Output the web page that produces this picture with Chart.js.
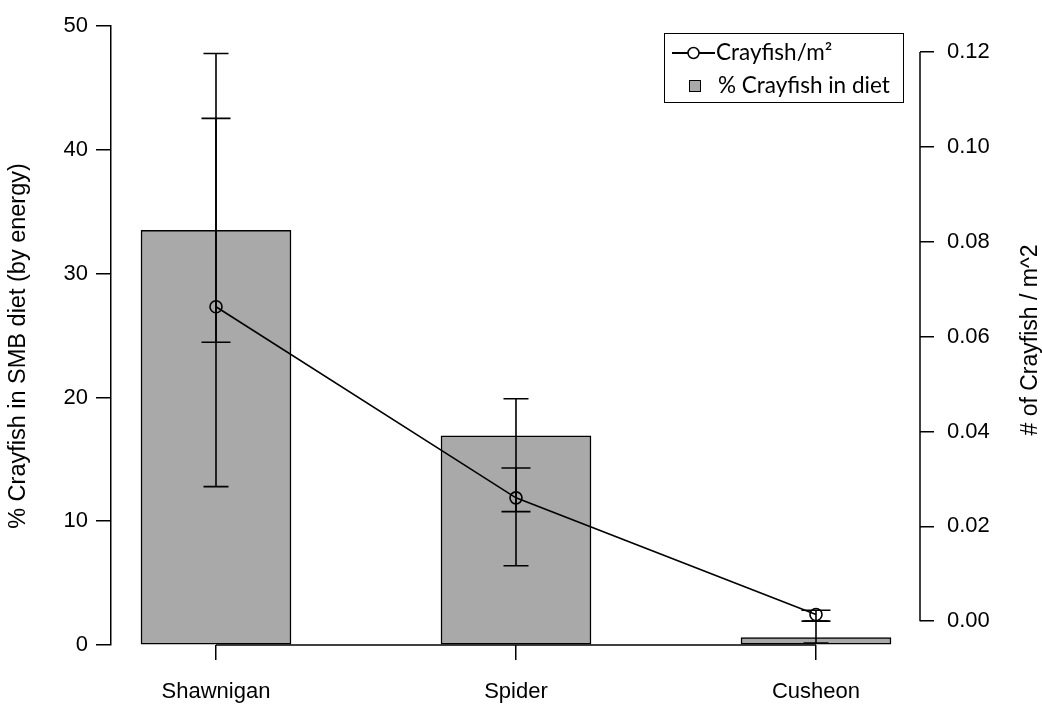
<!DOCTYPE html>
<html>
<head>
<meta charset="utf-8">
<script src="https://cdn.jsdelivr.net/npm/chart.js@4.4.1/dist/chart.umd.min.js"></script>
<style>
  html, body { margin: 0; padding: 0; background: #ffffff; }
  #wrap { width: 1042px; height: 704px; }
</style>
</head>
<body>
<div id="wrap"><canvas id="c" width="1042" height="704"></canvas></div>
<script>
// Sites and measurements
const sites = ['Shawnigan', 'Spider', 'Cusheon'];

// % crayfish in smallmouth bass diet (by energy), with error-bar limits
const dietPct  = [33.5, 16.9, 0.6];
const dietLow  = [12.8, 6.4, 0.16];
const dietHigh = [47.8, 19.9, 1.93];

// Crayfish density (# / m^2), with error-bar limits
const density     = [0.0663, 0.026, 0.0014];
const densityLow  = [0.0588, 0.0231, 0.0];
const densityHigh = [0.106, 0.0323, 0.0023];

// Axis tick values
const leftTicks  = [0, 10, 20, 30, 40, 50];
const rightTicks = [0, 0.02, 0.04, 0.06, 0.08, 0.10, 0.12];

const FONT = "'Liberation Sans', Arial, Helvetica, sans-serif";
const BAR_FILL = '#a9a9a9';

const idx = sites.map((s, i) => i + 1);
const barPoints  = idx.map((x, i) => ({ x, y: dietPct[i] }));
const linePoints = idx.map((x, i) => ({ x, y: density[i] }));

// Error bars drawn through each dataset's own y scale
const errorBars = {
  id: 'errorBars',
  afterDatasetsDraw(chart) {
    const ctx = chart.ctx;
    const xs = chart.scales.x;
    const sets = [
      { scale: chart.scales.y,  lo: dietLow,    hi: dietHigh,    half: 12.5 },
      { scale: chart.scales.y2, lo: densityLow, hi: densityHigh, half: 14.5 }
    ];
    ctx.save();
    ctx.strokeStyle = '#000';
    ctx.lineWidth = 1.6;
    sets.forEach(s => {
      idx.forEach((x, i) => {
        const px = xs.getPixelForValue(x);
        const y1 = s.scale.getPixelForValue(s.lo[i]);
        const y2 = s.scale.getPixelForValue(s.hi[i]);
        ctx.beginPath();
        ctx.moveTo(px, y1); ctx.lineTo(px, y2);
        ctx.moveTo(px - s.half, y1); ctx.lineTo(px + s.half, y1);
        ctx.moveTo(px - s.half, y2); ctx.lineTo(px + s.half, y2);
        ctx.stroke();
      });
    });
    ctx.restore();
  }
};

// Axis lines that span only the labelled range, plus both axis titles
const axisLines = {
  id: 'axisLines',
  afterDraw(chart) {
    const ctx = chart.ctx;
    const xs = chart.scales.x, yr = chart.scales.y2, yl = chart.scales.y;
    ctx.save();
    ctx.strokeStyle = '#000';
    ctx.lineWidth = 1.5;
    // bottom axis from first to last category
    const yb = yl.getPixelForValue(0);
    ctx.beginPath();
    ctx.moveTo(xs.getPixelForValue(1), yb);
    ctx.lineTo(xs.getPixelForValue(sites.length), yb);
    ctx.stroke();
    // right axis from 0.00 to 0.12
    const xr = yr.left;
    ctx.beginPath();
    ctx.moveTo(xr, yr.getPixelForValue(rightTicks[0]));
    ctx.lineTo(xr, yr.getPixelForValue(rightTicks[rightTicks.length - 1]));
    ctx.stroke();
    ctx.restore();

    // axis titles, both reading upward
    const title = (text, x, y, size) => {
      ctx.save();
      ctx.fillStyle = '#000';
      ctx.font = size + 'px ' + FONT;
      ctx.textAlign = 'center';
      ctx.textBaseline = 'middle';
      ctx.translate(x, y);
      ctx.rotate(-Math.PI / 2);
      ctx.fillText(text, 0, 0);
      ctx.restore();
    };
    title('% Crayfish in SMB diet (by energy)', 19, 346, 23.5);
    title('# of Crayfish / m^2', 1031, 340, 23);
  }
};

// Boxed legend in the upper right of the plot
const boxLegend = {
  id: 'boxLegend',
  afterDraw(chart) {
    const ctx = chart.ctx;
    ctx.save();
    ctx.strokeStyle = '#000';
    ctx.lineWidth = 1;
    ctx.strokeRect(664.5, 33.5, 239, 69);
    // line + open circle
    ctx.lineWidth = 2;
    ctx.beginPath(); ctx.moveTo(672, 53); ctx.lineTo(715, 53); ctx.stroke();
    ctx.lineWidth = 1.5;
    ctx.fillStyle = '#fff';
    ctx.beginPath(); ctx.arc(693.5, 53, 5.5, 0, Math.PI * 2); ctx.fill(); ctx.stroke();
    // grey square
    ctx.fillStyle = BAR_FILL;
    ctx.lineWidth = 1;
    ctx.fillRect(689.5, 80.5, 11, 11);
    ctx.strokeRect(689.5, 80.5, 11, 11);
    // labels
    ctx.fillStyle = '#000';
    ctx.font = '22.5px Lato, Carlito, sans-serif';
    ctx.textAlign = 'left';
    ctx.textBaseline = 'middle';
    ctx.fillText('Crayfish/m\u00B2', 716, 53);
    ctx.fillText('% Crayfish in diet', 718, 86);
    ctx.restore();
  }
};

new Chart(document.getElementById('c'), {
  data: {
    datasets: [
      {
        type: 'bar',
        label: '% Crayfish in diet',
        data: barPoints,
        xAxisID: 'x',
        yAxisID: 'y',
        backgroundColor: BAR_FILL,
        borderColor: '#000',
        borderWidth: 1.5,
        borderSkipped: false,
        barThickness: 150,
        order: 2
      },
      {
        type: 'line',
        label: 'Crayfish/m\u00B2',
        data: linePoints,
        xAxisID: 'x',
        yAxisID: 'y2',
        borderColor: '#000',
        borderWidth: 1.6,
        tension: 0,
        pointRadius: 6,
        pointBorderWidth: 1.6,
        pointBorderColor: '#000',
        pointBackgroundColor: 'rgba(0,0,0,0)',
        clip: false,
        order: 1
      }
    ]
  },
  options: {
    responsive: false,
    devicePixelRatio: 1,
    animation: false,
    layout: { padding: { top: 22, left: 0, right: 0, bottom: 0 } },
    plugins: { legend: { display: false }, tooltip: { enabled: false } },
    scales: {
      x: {
        type: 'linear',
        position: 'bottom',
        offset: false,
        min: 0.65,
        max: 3.3467,
        afterBuildTicks: s => { s.ticks = idx.map(v => ({ value: v })); },
        afterFit: s => { s.height = 59; },
        ticks: {
          callback: v => sites[v - 1],
          font: { family: FONT, size: 22 },
          color: '#000',
          padding: 19,
          maxRotation: 0,
          autoSkip: false
        },
        grid: { offset: false, drawOnChartArea: false, drawTicks: true, tickLength: 15, color: '#000', lineWidth: 1.5 },
        border: { display: false }
      },
      y: {
        type: 'linear',
        position: 'left',
        min: 0,
        max: 50,
        afterBuildTicks: s => { s.ticks = leftTicks.map(v => ({ value: v })); },
        afterFit: s => { s.width = 111; },
        ticks: { font: { family: FONT, size: 22 }, color: '#000', padding: 8 },
        grid: { drawOnChartArea: false, drawTicks: true, tickLength: 15, color: '#000', lineWidth: 1.5 },
        border: { display: true, color: '#000', width: 1.5 }
      },
      y2: {
        type: 'linear',
        position: 'right',
        min: -0.005026,
        max: 0.125445,
        afterBuildTicks: s => { s.ticks = rightTicks.map(v => ({ value: v })); },
        afterFit: s => { s.width = 122; },
        ticks: {
          font: { family: FONT, size: 22 },
          color: '#000',
          padding: 13,
          callback: v => Number(v).toFixed(2)
        },
        grid: { drawOnChartArea: false, drawTicks: true, tickLength: 14, color: '#000', lineWidth: 1.5 },
        border: { display: false }
      }
    }
  },
  plugins: [errorBars, axisLines, boxLegend]
});
</script>
</body>
</html>
